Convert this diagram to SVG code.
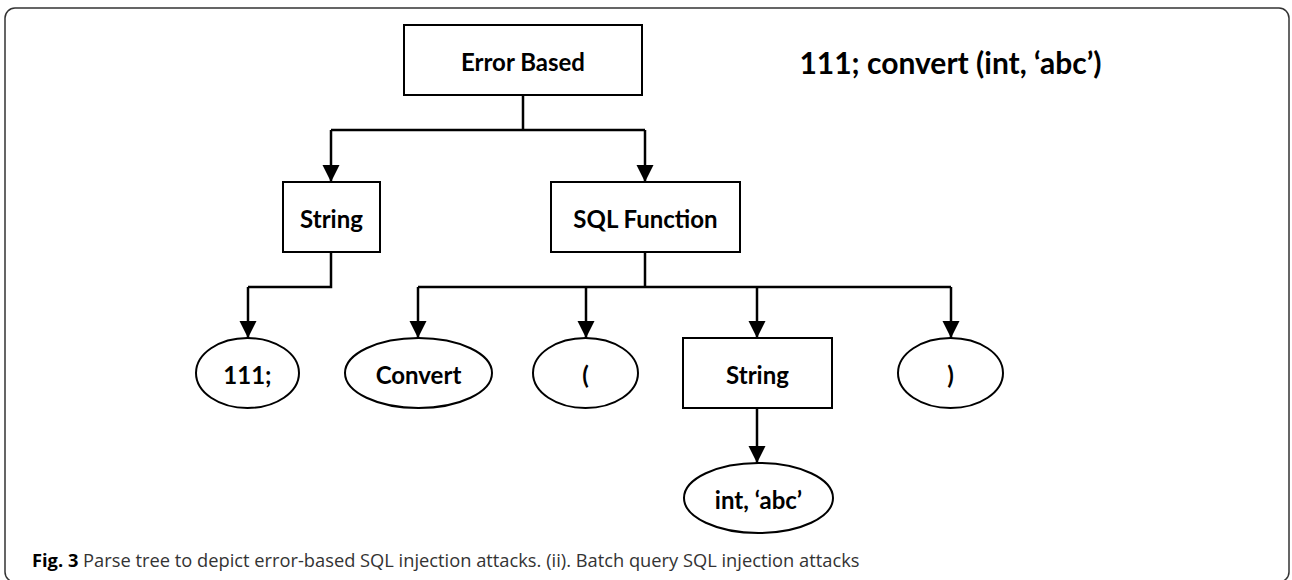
<svg xmlns="http://www.w3.org/2000/svg" width="1292" height="580" viewBox="0 0 1292 580">
<style>
.frame{fill:#fff;stroke:#333;stroke-width:1.5}
.box{fill:#fff;stroke:#000;stroke-width:2}
.lbl{font-family:Lato,"Liberation Sans",sans-serif;font-weight:bold;font-size:24px;fill:#000;text-anchor:middle;dominant-baseline:central}
.conn{fill:none;stroke:#000;stroke-width:2.5}
.cap{font-family:"Open Sans","Noto Sans",sans-serif;font-size:18.3px;fill:#333}
</style>
<defs>
<marker id="arr" markerWidth="7" markerHeight="7" refX="7" refY="3.5" orient="auto" markerUnits="strokeWidth">
<path d="M0,0 L7,3.5 L0,7 Z" fill="#000"/>
</marker>
</defs>
<rect class="frame" x="5" y="8" width="1284" height="574" rx="10"/>
<g id="connectors">
<path class="conn" d="M523,95 V130 M331,130 H645"/>
<path class="conn" d="M331,130 V182" marker-end="url(#arr)"/>
<path class="conn" d="M645,130 V182" marker-end="url(#arr)"/>
<path class="conn" d="M331,252 V287 H248"/>
<path class="conn" d="M248,287 V338" marker-end="url(#arr)"/>
<path class="conn" d="M645,252 V287 M418,287 H951"/>
<path class="conn" d="M418,287 V338" marker-end="url(#arr)"/>
<path class="conn" d="M586,287 V338" marker-end="url(#arr)"/>
<path class="conn" d="M757,287 V338" marker-end="url(#arr)"/>
<path class="conn" d="M951,287 V338" marker-end="url(#arr)"/>
<path class="conn" d="M757,408 V463" marker-end="url(#arr)"/>
</g>
<g id="error-based"><rect class="box" x="404" y="25" width="238" height="70"/><text class="lbl" x="523" y="61">Error Based</text></g>
<g id="string1"><rect class="box" x="283" y="182" width="97" height="70"/><text class="lbl" x="331.5" y="218">String</text></g>
<g id="sql-function"><rect class="box" x="551" y="182" width="189" height="70"/><text class="lbl" x="645.5" y="218">SQL Function</text></g>
<g id="n111"><ellipse class="box" cx="247.5" cy="373" rx="51.5" ry="35"/><text class="lbl" x="247.5" y="374">111;</text></g>
<g id="convert"><ellipse class="box" cx="418.5" cy="373" rx="73.5" ry="35"/><text class="lbl" x="418.5" y="374">Convert</text></g>
<g id="lparen"><ellipse class="box" cx="585.5" cy="373" rx="52.5" ry="35"/><text class="lbl" x="585.5" y="374">(</text></g>
<g id="string2"><rect class="box" x="683" y="338" width="149" height="70"/><text class="lbl" x="757.5" y="374">String</text></g>
<g id="rparen"><ellipse class="box" cx="950.5" cy="373" rx="52.5" ry="35"/><text class="lbl" x="950.5" y="374">)</text></g>
<g id="int-abc"><ellipse class="box" cx="758.5" cy="498" rx="74.5" ry="35"/><text class="lbl" x="758.5" y="499">int, ‘abc’</text></g>
<text class="lbl" x="950.5" y="62" style="font-size:30px">111; convert (int, ‘abc’)</text>
<text class="cap" x="32" y="567"><tspan font-weight="bold" fill="#000">Fig. 3</tspan> Parse tree to depict error-based SQL injection attacks. (ii). Batch query SQL injection attacks</text>
</svg>
